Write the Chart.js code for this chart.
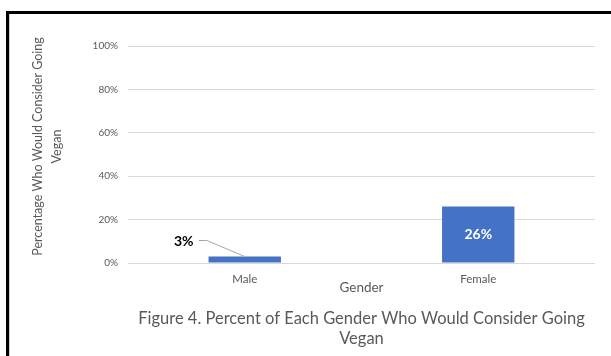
<!DOCTYPE html>
<html>
<head>
<meta charset="utf-8">
<script src="https://cdn.jsdelivr.net/npm/chart.js@4.4.1/dist/chart.umd.min.js"></script>
<style>
  html, body { margin: 0; padding: 0; background: #ffffff; }
  #wrap { width: 611px; height: 356px; position: relative; }
</style>
</head>
<body>
<div id="wrap"><canvas id="chart"></canvas></div>
<script>
// Share of each gender who would consider going vegan (percent)
const genders = ['Male', 'Female'];
const considerVegan = [3, 26];
const percentTicks = [0, 20, 40, 60, 80, 100];
const yAxisTitle = ['Percentage Who Would Consider Going', 'Vegan'];
const xAxisTitle = 'Gender';
const figureTitle = ['Figure 4. Percent of Each Gender Who Would Consider Going', 'Vegan'];

const FONT = 'Lato, "Open Sans", sans-serif';
const GREY_TEXT = '#595959';

// Frame, rotated axis title and value labels
const decorations = {
  id: 'decorations',
  afterDatasetsDraw(chart) {
    const ctx = chart.ctx;
    const meta = chart.getDatasetMeta(0);
    const values = chart.data.datasets[0].data;
    ctx.save();
    meta.data.forEach((bar, i) => {
      const text = values[i] + '%';
      const h = bar.base - bar.y;
      ctx.font = 'bold 14px ' + FONT;
      ctx.textAlign = 'center';
      ctx.textBaseline = 'middle';
      if (h > 24) {
        ctx.fillStyle = '#ffffff';
        ctx.fillText(text, bar.x, (bar.y + bar.base) / 2);
      } else {
        // callout label with a leader line to the top of the bar
        const lx = bar.x - 61, ly = bar.y - 15;
        ctx.strokeStyle = '#a6a6a6';
        ctx.lineWidth = 1;
        ctx.beginPath();
        ctx.moveTo(lx + 15, ly - 1);
        ctx.lineTo(lx + 23, ly - 1);
        ctx.lineTo(bar.x, bar.y);
        ctx.stroke();
        ctx.fillStyle = '#000000';
        ctx.fillText(text, lx, ly);
      }
    });
    ctx.restore();
  },
  afterDraw(chart) {
    const ctx = chart.ctx;
    const area = chart.chartArea;
    ctx.save();
    // vertical axis title, two lines
    ctx.translate(38, (area.top + area.bottom) / 2 - 8);
    ctx.rotate(-Math.PI / 2);
    ctx.font = '12.5px ' + FONT;
    ctx.fillStyle = GREY_TEXT;
    ctx.textAlign = 'center';
    ctx.textBaseline = 'middle';
    yAxisTitle.forEach((line, i) => ctx.fillText(line, 0, i * 19));
    ctx.restore();
    // black frame on the left and top edges
    ctx.save();
    ctx.fillStyle = '#000000';
    ctx.fillRect(6, 11, 3, chart.height - 11);
    ctx.fillRect(6, 11, chart.width - 6, 3);
    ctx.fillStyle = '#d0d0d0';
    ctx.fillRect(9, 14, 1, chart.height - 14);
    ctx.restore();
  }
};

new Chart(document.getElementById('chart'), {
  type: 'bar',
  data: {
    labels: genders,
    datasets: [{
      data: considerVegan,
      backgroundColor: '#4472C4',
      borderWidth: 0,
      barPercentage: 0.31,
      categoryPercentage: 1.0
    }]
  },
  options: {
    responsive: true,
    maintainAspectRatio: false,
    animation: false,
    layout: { padding: { left: 0, right: 16, top: 46, bottom: 7 } },
    plugins: {
      legend: { display: false },
      tooltip: { enabled: false },
      title: {
        display: true,
        position: 'bottom',
        fullSize: false,
        text: figureTitle,
        color: GREY_TEXT,
        font: { family: FONT, size: 16.5, weight: 'normal', lineHeight: '20px' },
        padding: { top: 0, bottom: 0 }
      }
    },
    scales: {
      x: {
        grid: { display: false, drawTicks: false },
        border: { display: false },
        ticks: { padding: 9, color: GREY_TEXT, font: { family: FONT, size: 11.5 } },
        title: {
          display: true,
          text: xAxisTitle,
          color: GREY_TEXT,
          font: { family: FONT, size: 13.5 },
          padding: { top: 0, bottom: 13 }
        },
        afterFit(scale) { scale.height = 46; }
      },
      y: {
        min: 0,
        max: 100,
        grid: { color: '#d9d9d9', lineWidth: 1, drawTicks: false },
        border: { display: false },
        ticks: {
          padding: 10,
          color: GREY_TEXT,
          font: { family: FONT, size: 10 },
          callback: v => v + '%'
        },
        afterBuildTicks(scale) { scale.ticks = percentTicks.map(v => ({ value: v })); },
        afterFit(scale) { scale.width = 128; }
      }
    }
  },
  plugins: [decorations]
});
</script>
</body>
</html>
